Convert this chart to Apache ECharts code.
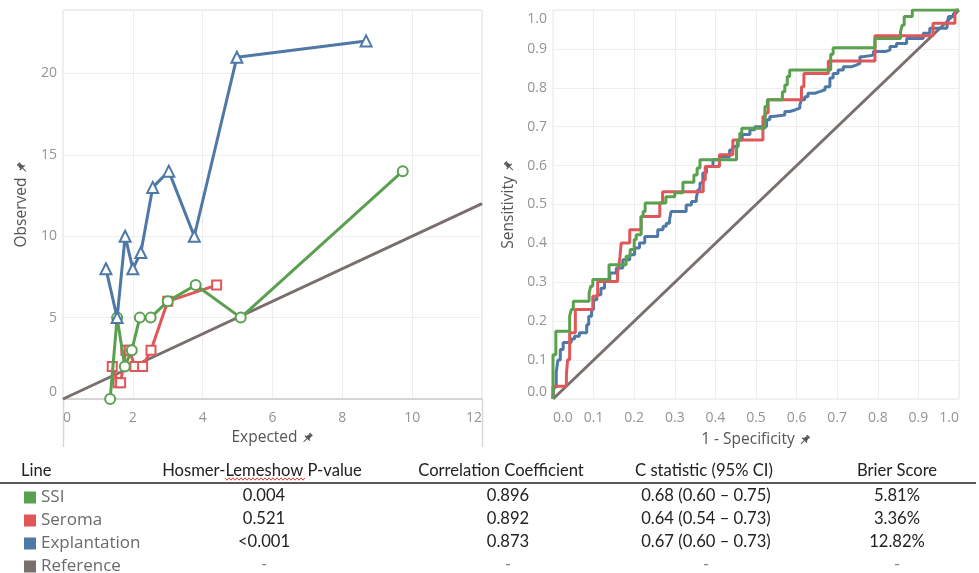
<!DOCTYPE html>
<html><head><meta charset="utf-8">
<script src="https://cdn.jsdelivr.net/npm/echarts@6/dist/echarts.min.js"></script>
<style>html,body{margin:0;padding:0;background:#fff}#c{width:979px;height:573px}</style>
</head><body><div id="c"></div>
<script>
// ---- Calibration plot data (Expected vs Observed) ----
const expExplant = [1.23, 1.55, 1.78, 2.0, 2.23, 2.57, 3.03, 3.76, 4.98, 8.68];
const obsExplant = [8, 5, 10, 8, 9, 13, 14, 10, 21, 22];
const expSSI = [1.35, 1.55, 1.77, 1.97, 2.2, 2.51, 3.0, 3.8, 5.09, 9.73];
const obsSSI = [0, 5, 2, 3, 5, 5, 6, 7, 5, 14];
const expSeroma = [1.41, 1.58, 1.65, 1.8, 1.9, 2.06, 2.28, 2.52, 3.0, 4.4];
const obsSeroma = [2, 1, 1, 3, 3, 2, 2, 3, 6, 7];
const refCalib = [[0, 0], [12, 12]];

// ---- ROC curve data ([1 - specificity, sensitivity]) ----
const rocSSI = [[0,0],[0,0.114],[0.007,0.174],[0.041,0.213],[0.045,0.23],[0.05,0.251],[0.089,0.273],[0.093,0.29],[0.098,0.307],[0.138,0.345],[0.18,0.367],[0.19,0.384],[0.2,0.41],[0.205,0.422],[0.217,0.469],[0.222,0.482],[0.227,0.504],[0.278,0.52],[0.3,0.53],[0.32,0.557],[0.347,0.576],[0.355,0.594],[0.362,0.615],[0.452,0.64],[0.455,0.666],[0.46,0.683],[0.465,0.696],[0.522,0.752],[0.528,0.769],[0.565,0.79],[0.571,0.807],[0.577,0.829],[0.583,0.846],[0.684,0.886],[0.69,0.903],[0.793,0.927],[0.856,0.944],[0.86,0.961],[0.865,0.983],[0.885,1.0],[1.0,1.0]];
const rocSeroma = [[0,0],[0,0.033],[0.033,0.063],[0.036,0.101],[0.041,0.17],[0.055,0.23],[0.098,0.264],[0.11,0.302],[0.159,0.324],[0.162,0.341],[0.165,0.367],[0.168,0.401],[0.189,0.435],[0.217,0.469],[0.263,0.504],[0.27,0.533],[0.37,0.563],[0.375,0.598],[0.41,0.628],[0.443,0.666],[0.517,0.726],[0.523,0.735],[0.53,0.769],[0.612,0.803],[0.618,0.837],[0.678,0.869],[0.793,0.934],[0.936,0.966],[0.99,1.0],[1.0,1.0]];
const rocExplant = [[0,0],[0.002,0.03],[0.008,0.068],[0.012,0.1],[0.018,0.127],[0.025,0.145],[0.045,0.154],[0.053,0.161],[0.065,0.17],[0.083,0.191],[0.088,0.213],[0.095,0.23],[0.1,0.255],[0.108,0.268],[0.118,0.285],[0.127,0.307],[0.14,0.324],[0.156,0.337],[0.172,0.358],[0.189,0.371],[0.201,0.388],[0.213,0.401],[0.226,0.418],[0.258,0.435],[0.271,0.444],[0.279,0.452],[0.287,0.461],[0.291,0.482],[0.328,0.499],[0.341,0.508],[0.353,0.517],[0.357,0.538],[0.362,0.555],[0.369,0.581],[0.378,0.598],[0.394,0.615],[0.41,0.623],[0.435,0.64],[0.443,0.649],[0.456,0.666],[0.466,0.68],[0.485,0.692],[0.497,0.70],[0.526,0.718],[0.534,0.726],[0.542,0.73],[0.571,0.739],[0.583,0.743],[0.596,0.748],[0.608,0.756],[0.612,0.769],[0.62,0.777],[0.628,0.786],[0.645,0.79],[0.657,0.795],[0.67,0.803],[0.682,0.825],[0.69,0.837],[0.702,0.846],[0.715,0.854],[0.735,0.859],[0.748,0.863],[0.756,0.88],[0.764,0.884],[0.789,0.893],[0.818,0.897],[0.83,0.906],[0.846,0.914],[0.871,0.927],[0.912,0.94],[0.928,0.953],[0.97,0.957],[0.974,0.983],[0.986,0.991],[0.993,1.0],[1.0,1.0]];
const refROC = [[0, 0], [1, 1]];

// ---- Table ----
const lineNames = ['SSI', 'Seroma', 'Explantation', 'Reference'];
const tableHeaders = ['Line', 'Hosmer-Lemeshow P-value', 'Correlation Coefficient', 'C statistic (95% CI)', 'Brier Score'];
const hlPValue = ['0.004', '0.521', '<0.001', '-'];
const corrCoef = ['0.896', '0.892', '0.873', '-'];
const cStatistic = ['0.68 (0.60 \u2013 0.75)', '0.64 (0.54 \u2013 0.73)', '0.67 (0.60 \u2013 0.73)', '-'];
const brierScore = ['5.81%', '3.36%', '12.82%', '-'];

const COLORS = {SSI: '#59a14f', Seroma: '#e15759', Explantation: '#4e79a7', Reference: '#79706e'};
const zip = (a, b) => a.map((v, i) => [v, b[i]]);

const pinSvg = "<svg xmlns='http://www.w3.org/2000/svg' viewBox='0 0 12 12'><g transform='rotate(45 6 6)' fill='%23555'><rect x='4' y='0.5' width='4' height='1.6'/><path d='M4.6 2h2.8l0.9 3.8h-4.6z'/><rect x='2.6' y='5.6' width='6.8' height='1.3'/><rect x='5.55' y='6.5' width='0.9' height='5'/></g></svg>";
const pinURI = 'data:image/svg+xml;utf8,' + pinSvg;
const pinRich = {pin: {width: 12, height: 12, backgroundColor: {image: pinURI}}};

const FONT_T = 'Open Sans';
const axisLabelStyle = {color: '#949494', fontSize: 14, fontFamily: FONT_T};
const nameStyle = {color: '#555', fontSize: 15.5, fontFamily: FONT_T, rich: pinRich};

const chart = echarts.init(document.getElementById('c'), null, {renderer: 'canvas'});

// table graphics built from arrays
const graphics = [];
const hdrX = [21, 262, 501, 704, 897];
const colX = [264, 508, 706, 897];
const rowY = [496, 519, 542, 565];
const TF = '16.6px Lato';
tableHeaders.forEach((h, i) => {
  graphics.push({type: 'text', style: {text: h, x: hdrX[i], y: 471, textAlign: i === 0 ? 'left' : 'center', textVerticalAlign: 'middle', font: TF, fill: '#222'}});
});
[hlPValue, corrCoef, cStatistic, brierScore].forEach((col, ci) => {
  col.forEach((v, ri) => {
    graphics.push({type: 'text', style: {text: v, x: colX[ci], y: rowY[ri], textAlign: 'center', textVerticalAlign: 'middle', font: TF, fill: v === '-' ? '#888' : '#222'}});
  });
});
graphics.push({type: 'line', shape: {x1: 0, y1: 483, x2: 976, y2: 483}, style: {stroke: '#5a5a5a', lineWidth: 2}});
// spell-check squiggle under "Lemeshow"
const sq = [];
for (let x = 225, k = 0; x <= 305; x += 2, k++) sq.push([x, 479 + (k % 2 ? 1.2 : -1.2)]);
graphics.push({type: 'polyline', shape: {points: sq}, style: {stroke: '#e04040', lineWidth: 1, fill: null}});
// pane divider lines under the calibration plot
graphics.push({type: 'line', shape: {x1: 63.5, y1: 399, x2: 63.5, y2: 447}, style: {stroke: '#d8d8d8', lineWidth: 1.5}});
graphics.push({type: 'line', shape: {x1: 482.5, y1: 399, x2: 482.5, y2: 447}, style: {stroke: '#d8d8d8', lineWidth: 1.5}});

function lineSeries(name, data, xi, extra) {
  return Object.assign({
    type: 'line', name, data, xAxisIndex: xi, yAxisIndex: xi,
    lineStyle: {color: COLORS[name], width: 3},
    itemStyle: {color: COLORS[name], borderWidth: 2},
    emphasis: {disabled: true}, animation: false
  }, extra);
}

const option = {
  animation: false,
  grid: [
    {left: 63, right: 497, top: 10, bottom: 174, show: true, borderColor: '#dddddd', borderWidth: 1},
    {left: 553, right: 20, top: 10, bottom: 174, show: true, borderColor: '#e8e8e8', borderWidth: 1}
  ],
  xAxis: [
    {gridIndex: 0, type: 'value', min: 0, max: 12, interval: 2,
     axisLine: {show: true, onZero: false, lineStyle: {color: '#cdcdcd', width: 1.5}}, axisTick: {show: false},
     splitLine: {lineStyle: {color: '#eeeeee'}},
     axisLabel: Object.assign({margin: 12, alignMinLabel: 'left', alignMaxLabel: 'right'}, axisLabelStyle),
     name: 'Expected {pin| }', nameLocation: 'middle', nameGap: 31, nameTextStyle: nameStyle},
    {gridIndex: 1, type: 'value', min: 0, max: 1, interval: 0.1,
     axisLine: {show: false}, axisTick: {show: false},
     splitLine: {lineStyle: {color: '#eeeeee'}},
     axisLabel: Object.assign({margin: 12, alignMinLabel: 'left', alignMaxLabel: 'right', formatter: v => v.toFixed(1)}, axisLabelStyle),
     name: '1 - Specificity {pin| }', nameLocation: 'middle', nameGap: 33, nameTextStyle: nameStyle}
  ],
  yAxis: [
    {gridIndex: 0, type: 'value', min: 0, max: 23.9, interval: 5,
     axisLine: {show: false}, axisTick: {show: false},
     splitLine: {lineStyle: {color: '#eeeeee'}},
     axisLabel: Object.assign({margin: 6, showMaxLabel: false, verticalAlignMinLabel: 'bottom'}, axisLabelStyle),
     name: 'Observed {pin| }', nameLocation: 'middle', nameGap: 33, nameTextStyle: nameStyle},
    {gridIndex: 1, type: 'value', min: 0, max: 1, interval: 0.1,
     axisLine: {show: false}, axisTick: {show: false},
     splitLine: {lineStyle: {color: '#eeeeee'}},
     axisLabel: Object.assign({margin: 6, verticalAlignMinLabel: 'bottom', verticalAlignMaxLabel: 'top', formatter: v => v.toFixed(1), padding: [2, 0, 0, 0]}, axisLabelStyle),
     name: 'Sensitivity {pin| }', nameLocation: 'middle', nameGap: 36, nameTextStyle: nameStyle}
  ],
  legend: {
    data: lineNames, orient: 'vertical', left: 24, top: 489, height: 100, padding: 0,
    itemWidth: 12, itemHeight: 12, itemGap: 6, icon: 'rect', selectedMode: false,
    textStyle: {color: '#6a6a6a', fontSize: 17, fontFamily: FONT_T}
  },
  series: [
    lineSeries('Reference', refCalib, 0, {symbol: 'none', z: 1}),
    lineSeries('Seroma', zip(expSeroma, obsSeroma), 0, {symbol: 'emptyRect', symbolSize: 9, z: 2}),
    lineSeries('SSI', zip(expSSI, obsSSI), 0, {symbol: 'emptyCircle', symbolSize: 10, z: 3}),
    lineSeries('Explantation', zip(expExplant, obsExplant), 0, {symbol: 'emptyTriangle', symbolSize: 11, z: 4}),
    lineSeries('Reference', refROC, 1, {symbol: 'none', z: 1}),
    lineSeries('Explantation', rocExplant, 1, {symbol: 'none', step: 'end', z: 2}),
    lineSeries('Seroma', rocSeroma, 1, {symbol: 'none', step: 'end', z: 3}),
    lineSeries('SSI', rocSSI, 1, {symbol: 'none', step: 'end', z: 4})
  ],
  graphic: graphics
};
chart.setOption(option);
</script></body></html>
